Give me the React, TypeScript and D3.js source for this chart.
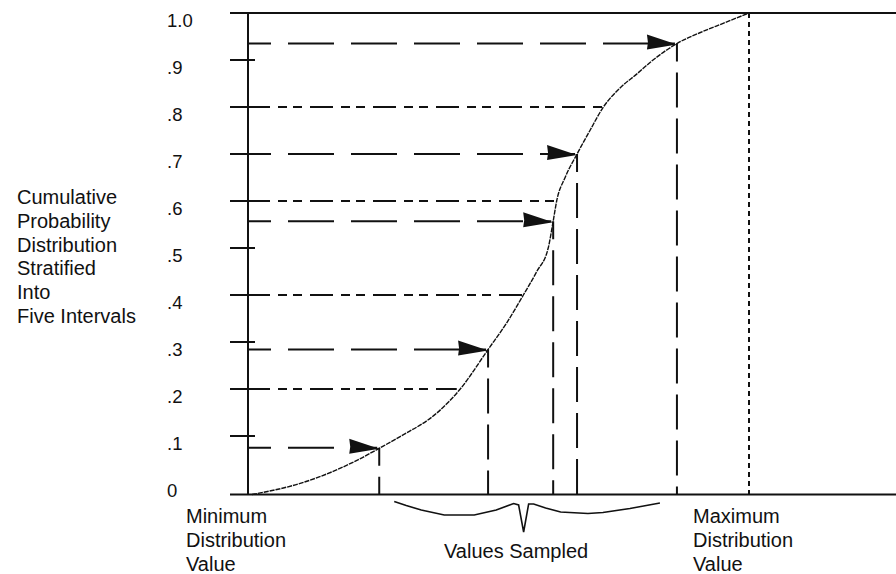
import { useEffect, useRef } from 'react';
import * as d3 from 'd3';

// Cumulative distribution (value on 0..100, probability)
const cdfValues = [0, 9.7, 17.0, 21.7, 25.6, 29.8, 37.2, 41.9, 47.5, 51.2, 54.6, 57.3, 59.6, 60.6, 61.3, 63.0, 65.4, 68.0, 70.7, 74.0, 77.4, 80.7, 85.5, 90.1, 94.8, 100];
const cdfProbs = [0, 0.019, 0.042, 0.061, 0.079, 0.099, 0.149, 0.2, 0.284, 0.34, 0.4, 0.45, 0.5, 0.557, 0.6, 0.65, 0.7, 0.75, 0.8, 0.84, 0.87, 0.9, 0.935, 0.958, 0.978, 1.0];

// one sample per stratum
const sampleValues = [25.6, 47.5, 60.6, 65.4, 85.5];
const sampleProbs = [0.08, 0.284, 0.557, 0.7, 0.935];

// stratum boundaries and where they meet the curve
const boundProbs = [0.2, 0.4, 0.6, 0.8];
const boundValues = [41.2, 54.5, 61.4, 70.6];

const yTicks = [0, 0.1, 0.2, 0.3, 0.4, 0.5, 0.6, 0.7, 0.8, 0.9, 1.0];
const yTickLabels = ['0', '.1', '.2', '.3', '.4', '.5', '.6', '.7', '.8', '.9', '1.0'];

const leftLabel = ['Cumulative', 'Probability', 'Distribution', 'Stratified', 'Into', 'Five Intervals'];
const minLabel = ['Minimum', 'Distribution', 'Value'];
const maxLabel = ['Maximum', 'Distribution', 'Value'];
const sampledLabel = 'Values Sampled';

const W = 896;
const H = 574;
const FONT = '"Liberation Sans", Arial, sans-serif';
const INK = '#111';

export default function App() {
    const svgRef = useRef<SVGSVGElement>(null);

    useEffect(() => {
        if (!svgRef.current) return;
        const svg = d3.select(svgRef.current);
        svg.selectAll('*').remove();

        const x = d3.scaleLinear().domain([0, 100]).range([252, 749]);
        // the drawing's axis is not quite even: the 0-.1 step is taller
        const y = d3.scaleLinear().domain([0, 0.1, 1]).range([494.5, 436, 13]);

        const axisX = 248;
        const frameLeft = 230;

        // frame: top and bottom rules, vertical axis
        [1, 0].forEach((p) => {
            svg.append('line')
                .attr('x1', frameLeft).attr('x2', W)
                .attr('y1', y(p)).attr('y2', y(p))
                .attr('stroke', INK).attr('stroke-width', 2);
        });
        svg.append('line')
            .attr('x1', axisX).attr('x2', axisX)
            .attr('y1', y(1)).attr('y2', y(0))
            .attr('stroke', INK).attr('stroke-width', 2);

        // ticks + labels
        yTicks.forEach((t, i) => {
            if (t > 0 && t < 1) {
                svg.append('line')
                    .attr('x1', frameLeft).attr('x2', 255)
                    .attr('y1', y(t)).attr('y2', y(t))
                    .attr('stroke', INK).attr('stroke-width', 2);
            }
            svg.append('text')
                .attr('x', 167)
                .attr('y', t === 0 ? y(t) + 2.5 : y(t) + 13.5)
                .attr('font-family', FONT)
                .attr('font-size', 18.5)
                .attr('fill', INK)
                .text(yTickLabels[i]);
        });

        // maximum value (dotted)
        svg.append('line')
            .attr('x1', x(100)).attr('x2', x(100))
            .attr('y1', y(1)).attr('y2', y(0))
            .attr('stroke', INK).attr('stroke-width', 2)
            .attr('stroke-dasharray', '5,4');

        // stratum boundaries (dash-dot-dot)
        boundProbs.forEach((p, i) => {
            svg.append('line')
                .attr('x1', axisX - 1).attr('x2', x(boundValues[i]))
                .attr('y1', y(p)).attr('y2', y(p))
                .attr('stroke', INK).attr('stroke-width', 2)
                .attr('stroke-dasharray', '23,8,9,6,9,8');
        });

        // sampled probabilities: horizontal + vertical dashed lines
        sampleValues.forEach((v, i) => {
            const p = sampleProbs[i];
            svg.append('line')
                .attr('x1', axisX).attr('x2', x(v) - 2)
                .attr('y1', y(p)).attr('y2', y(p))
                .attr('stroke', INK).attr('stroke-width', 2)
                .attr('stroke-dasharray', '46,17')
                .attr('stroke-dashoffset', 23);
            svg.append('line')
                .attr('x1', x(v)).attr('x2', x(v))
                .attr('y1', y(p)).attr('y2', y(0))
                .attr('stroke', INK).attr('stroke-width', 2)
                .attr('stroke-dasharray', '35,11')
                .attr('stroke-dashoffset', 17);
        });

        // the CDF curve
        const line = d3
            .line<number>()
            .x((d) => x(d))
            .y((_, i) => y(cdfProbs[i]))
            .curve(d3.curveMonotoneX);
        svg.append('path')
            .datum(cdfValues)
            .attr('fill', 'none')
            .attr('stroke', INK)
            .attr('stroke-width', 1.4)
            .attr('stroke-dasharray', '5,1')
            .attr('d', line);

        // arrowheads
        sampleValues.forEach((v, i) => {
            const tx = x(v);
            const ty = y(sampleProbs[i]) + 1;
            svg.append('path')
                .attr('d', `M${tx},${ty} L${tx - 30},${ty - 10} L${tx - 29},${ty - 2} L${tx - 30},${ty + 5} Z`)
                .attr('fill', INK);
        });

        // brace under the sampled values
        const l = x(sampleValues[0]) + 15;
        const r = x(sampleValues[4]) - 17;
        const c = l + (r - l) * 0.487;
        const b = y(0);
        const brace: [number, number][] = [
            [l, b + 7], [l + 12, b + 11], [l + 27, b + 15.5], [l + 50, b + 20.5], [l + 80, b + 20.5],
            [l + 102, b + 15.5], [c - 10, b + 9], [c - 5, b + 10.5], [c, b + 37.5], [c + 5, b + 9.5],
            [c + 10, b + 9.5], [c + 22, b + 13.5], [c + 37, b + 17.5], [r - 72, b + 19], [r - 57, b + 18],
            [r - 30, b + 14], [r, b + 8.5],
        ];
        svg.append('path')
            .attr('d', d3.line()(brace))
            .attr('fill', 'none')
            .attr('stroke', INK)
            .attr('stroke-width', 1.6);

        // text blocks
        const block = (lines: string[], x0: number, y0: number, step: number) => {
            lines.forEach((s, i) => {
                svg.append('text')
                    .attr('x', x0)
                    .attr('y', y0 + i * step)
                    .attr('font-family', FONT)
                    .attr('font-size', 20)
                    .attr('fill', INK)
                    .text(s);
            });
        };
        block(leftLabel, 17, 204, 23.8);
        block(minLabel, 186, 522.7, 24.2);
        block(maxLabel, 693, 522.7, 24.2);
        block([sampledLabel], 444, 558, 0);
    }, []);

    return (
        <svg
            ref={svgRef}
            width={W}
            height={H}
            viewBox={`0 0 ${W} ${H}`}
            style={{ position: 'absolute', left: 0, top: 0, background: '#fff' }}
        />
    );
}
